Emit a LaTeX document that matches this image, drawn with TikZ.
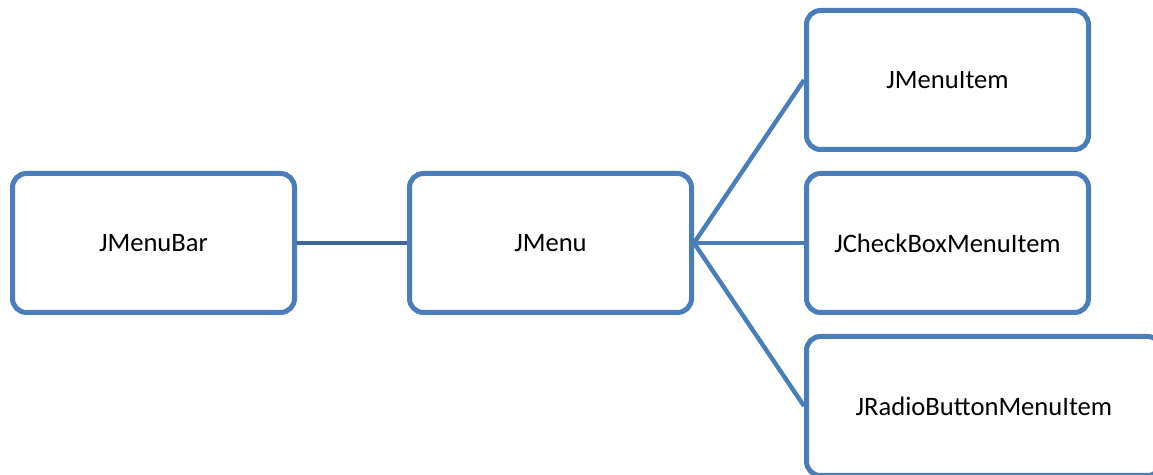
\documentclass[tikz,border=0pt]{standalone}
\usepackage{fontspec}
\setmainfont{Carlito}
\usetikzlibrary{positioning}
\definecolor{MenuBlue}{HTML}{4A7EBB}
\definecolor{MenuBlueDark}{HTML}{3C6699}

\begin{document}
\begin{tikzpicture}[
    mbox/.style={draw=MenuBlue, line width=2.5pt, rounded corners=7pt,
                 fill=white, minimum width=141pt, minimum height=69.5pt,
                 align=center, inner sep=2pt,
                 font=\fontsize{13.3}{16}\selectfont},
    wide/.style={mbox, minimum width=177.5pt},
    link/.style={draw=MenuBlue, line width=2.2pt},
    node distance=55pt,
  ]
    \useasboundingbox (0,0) rectangle (576.5pt,-237.5pt);
    \clip (0,0) rectangle (576.5pt,-237.5pt);

    % ── Menu bar and menu ────────────────────────────────────────────────
    \node[mbox] (bar) at (76.75pt,-121.5pt) {JMenuBar};
    \node[mbox, right=of bar]  (menu) {JMenu};

    % ── Menu entries ─────────────────────────────────────────────────────
    \node[mbox, right=of menu] (check) {JCheckBoxMenuItem};
    \node[mbox, above=9.5pt of check] (item) {JMenuItem};
    \node[wide, below right=9.5pt and 0pt of check.south west] (radio)
      {JRadioButtonMenuItem};

    % ── Links ────────────────────────────────────────────────────────────
    \draw[link, draw=MenuBlueDark] (bar) -- (menu);
    \foreach \b in {item, check, radio}
      \draw[link] (menu.east) -- (\b.west);
  \end{tikzpicture}
\end{document}
